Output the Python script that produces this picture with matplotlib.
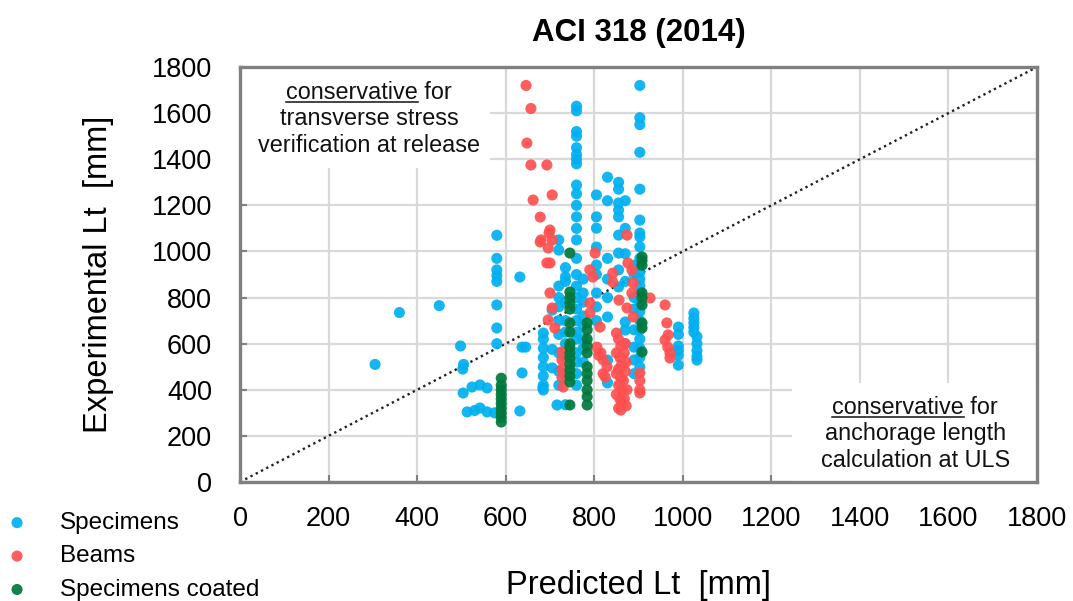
import matplotlib
matplotlib.use("Agg")
import matplotlib.pyplot as plt
from matplotlib.patches import Rectangle
from matplotlib.lines import Line2D

plt.rcParams['font.family'] = ['Liberation Sans', 'DejaVu Sans']

title = "ACI 318 (2014)"
xlabel = "Predicted Lt  [mm]"
ylabel = "Experimental Lt  [mm]"
ticks = [0, 200, 400, 600, 800, 1000, 1200, 1400, 1600, 1800]
series_names = ["Specimens", "Beams", "Specimens coated"]
series_colors = ["#00B0F0", "#FF5050", "#00783C"]

# Specimens (blue) - predicted, experimental
spec_x = ([305, 360, 450, 498, 505, 503, 504, 524, 542, 558, 513, 530, 542, 558, 575]
          + [580] * 8 + [632, 637, 632, 637, 645, 684, 716]
          + [685] * 8 + [705, 705, 705]
          + [720] * 10 + [735] * 10 + [760] * 26 + [775] * 8 + [805] * 9
          + [830] * 8 + [855] * 9 + [870] * 7 + [890] * 8 + [903] * 23
          + [990] * 6 + [1025] * 5 + [1032] * 5)
spec_y = ([510, 735, 765, 590, 510, 490, 386, 412, 421, 408, 304, 310, 321, 304, 300]
          + [1070, 970, 920, 895, 870, 768, 668, 600] + [889, 473, 308, 585, 585, 408, 334]
          + [646, 620, 580, 540, 500, 460, 420, 399] + [746, 575, 495]
          + [1006, 1050, 850, 800, 760, 700, 640, 560, 480, 420]
          + [930, 890, 870, 780, 700, 650, 600, 540, 460, 335]
          + [1630, 1610, 1520, 1500, 1450, 1420, 1400, 1380, 1288, 1250, 1200, 1150, 1100,
             1050, 970, 900, 850, 800, 750, 700, 650, 620, 560, 520, 470, 420]
          + [880, 820, 780, 720, 680, 620, 580, 520]
          + [1245, 1150, 1101, 1019, 941, 900, 820, 760, 700]
          + [1322, 1220, 970, 880, 800, 716, 529, 430]
          + [1300, 1270, 1210, 1180, 1150, 1071, 993, 920, 846]
          + [1220, 1100, 990, 870, 694, 659, 600]
          + [940, 900, 800, 750, 660, 585, 529, 470]
          + [1720, 1580, 1550, 1430, 1270, 1136, 1080, 1063, 1020, 970, 940, 910, 880,
             850, 820, 780, 740, 700, 660, 620, 580, 540, 499]
          + [672, 640, 590, 570, 550, 507]
          + [733, 710, 690, 670, 650]
          + [630, 600, 570, 545, 529])

# Beams (red)
beam_x = ([646, 657, 648, 657, 662, 693, 705, 678, 680, 698, 700, 705, 678, 696, 693, 700,
           700, 705, 696, 711, 727, 727, 727, 727, 730, 790, 797, 790, 790, 813,
           806, 815, 820, 829, 825, 810, 820, 802]
          + [850, 855, 860, 850, 858, 862, 855, 850, 860, 855, 862, 850, 858, 862, 855, 860,
             870, 868, 872, 870, 866, 874, 868, 872]
          + [842, 842, 856, 874, 876, 885, 888, 885, 874, 888]
          + [903, 903, 903, 903, 926, 960, 964, 967, 960, 966, 971, 971])
beam_y = ([1720, 1620, 1470, 1375, 1223, 1375, 1245, 1149, 1050, 1080, 1093, 1050, 1041,
           1015, 950, 950, 820, 755, 703, 668, 564, 530, 490, 455, 412, 920, 889, 776, 733,
           672, 585, 560, 530, 500, 455, 550, 470, 993]
          + [646, 620, 590, 560, 540, 510, 490, 470, 450, 420, 400, 380, 360, 340, 320, 312,
             600, 560, 520, 480, 440, 400, 360, 330]
          + [906, 867, 789, 1071, 950, 920, 863, 820, 755, 716]
          + [473, 440, 400, 386, 798, 768, 690, 638, 616, 585, 560, 538])

# Specimens coated (green)
coat_x = [590] * 10 + [745] * 16 + [784] * 11 + [908] * 9
coat_y = ([450, 420, 400, 380, 360, 340, 320, 300, 280, 260]
          + [993, 824, 800, 776, 750, 690, 650, 600, 585, 560, 538, 510, 486, 460, 434, 334]
          + [690, 660, 620, 590, 560, 500, 470, 440, 400, 370, 334]
          + [976, 960, 940, 820, 800, 768, 690, 668, 564])

fig = plt.figure(figsize=(10.73, 6.01), dpi=100)
W, H = 1073, 601
ax = fig.add_axes([240 / W, 1 - 482 / H, 797 / W, 415 / H])
ax.set_xlim(0, 1800)
ax.set_ylim(0, 1800)
ax.set_xticks(ticks)
ax.set_yticks(ticks)
ax.set_axisbelow(True)
ax.grid(True, color="#D9D9D9", linewidth=1.6)
for s in ax.spines.values():
    s.set_color("#808080")
    s.set_linewidth(2.4)
ax.tick_params(direction="in", length=5, width=1.5, color="#808080",
               labelsize=19.5, labelcolor="#000000")
ax.tick_params(axis="x", pad=17.5)
ax.tick_params(axis="y", pad=20)

# white boxes behind annotations
ax.add_patch(Rectangle((0, 1360), 565, 440, facecolor="white", edgecolor="none", zorder=1))
ax.add_patch(Rectangle((1247, 0), 553, 430, facecolor="white", edgecolor="none", zorder=1))

ax.plot([0, 1800], [0, 1800], linestyle=(0, (1, 1.5)), color="#222222", linewidth=1.7, zorder=1.5)

data = [(spec_x, spec_y), (beam_x, beam_y), (coat_x, coat_y)]
for (xs, ys), name, col in zip(data, series_names, series_colors):
    ax.scatter(xs, ys, s=64, color=col, edgecolors="none", alpha=0.92, label=name, zorder=2)

ax.set_title(title, fontsize=22.5, fontweight="bold", pad=19)
ax.set_xlabel(xlabel, fontsize=23.5, labelpad=27)
ax.set_ylabel(ylabel, fontsize=23.5, labelpad=27)

fig.canvas.draw()
renderer = fig.canvas.get_renderer()
AFS = 16.8


def annot(xc, ys, lines):
    for i, (yy, line) in enumerate(zip(ys, lines)):
        t = ax.text(xc, yy, line, ha="center", va="baseline", fontsize=AFS, zorder=3, color="#111111")
        if i == 0:
            bb = t.get_window_extent(renderer)
            t2 = ax.text(0, 0, "conservative", fontsize=AFS)
            w2 = t2.get_window_extent(renderer).width
            t2.remove()
            base = ax.transData.transform((xc, yy))[1]
            yl = base - 3
            fig.add_artist(Line2D([bb.x0 / W, (bb.x0 + w2) / W], [yl / H, yl / H],
                                  color="#111111", linewidth=1.1))


annot(292, [1660, 1548, 1432], ["conservative for", "transverse stress", "verification at release"])
annot(1525, [296, 180, 66], ["conservative for", "anchorage length", "calculation at ULS"])

fig.legend(loc="upper left", bbox_to_anchor=(0.0, 1 - 512 / H), frameon=False,
           fontsize=17.5, handletextpad=1.05, labelspacing=0.47, markerscale=1.0,
           borderaxespad=0, borderpad=0, handlelength=1.4)

fig.savefig("out.png", dpi=100)
